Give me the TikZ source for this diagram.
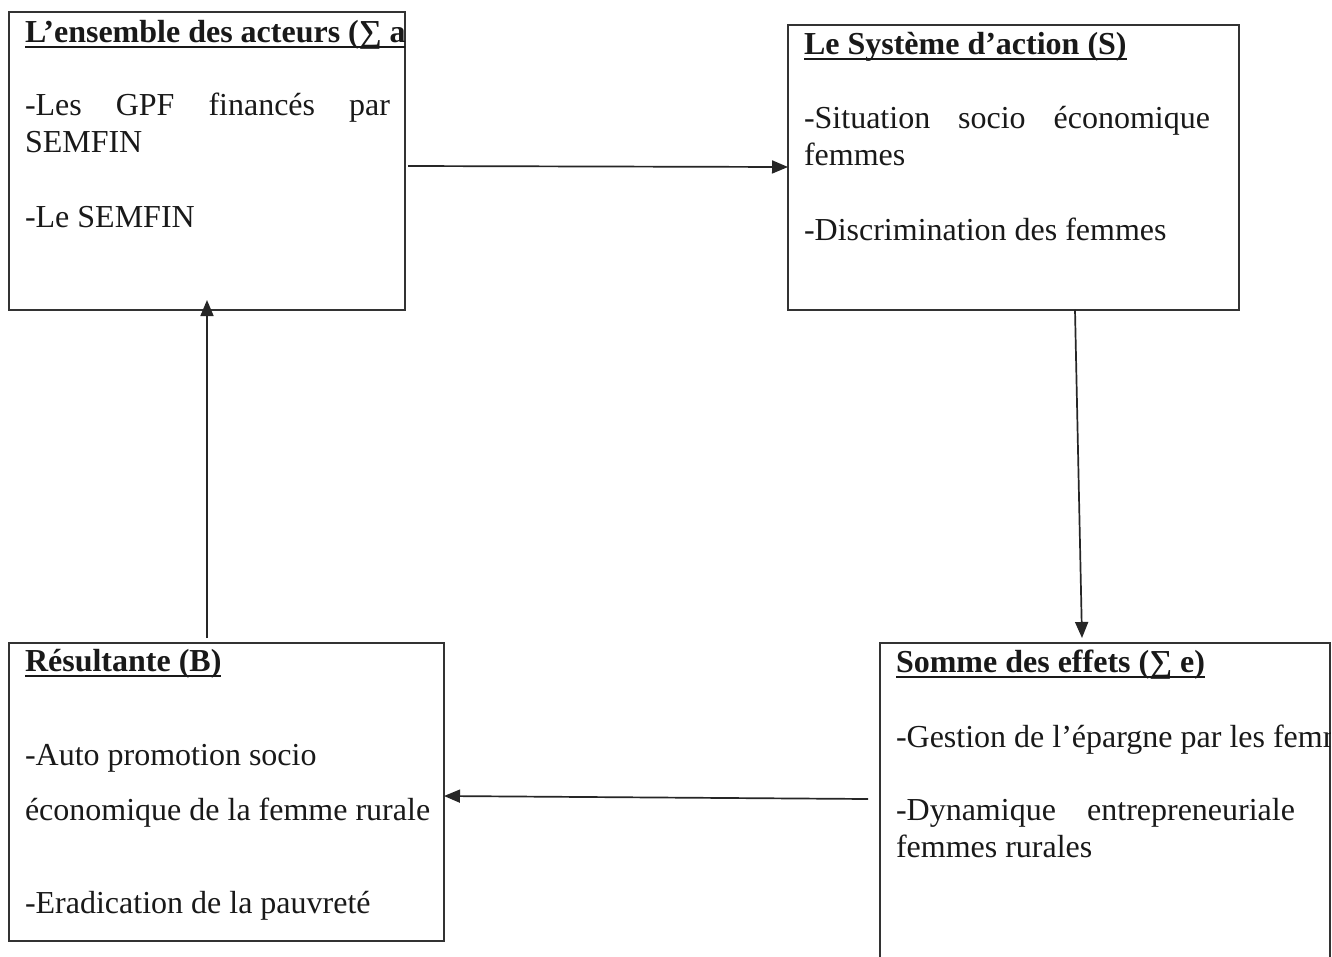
\documentclass[tikz,border=0pt]{standalone}
\usepackage{fontspec}
\setmainfont{Liberation Serif}
\usetikzlibrary{arrows.meta}
\tikzset{
  box/.style={draw=black!80, line width=1.5pt, minimum width=#1, anchor=north west, inner sep=0pt, outer sep=0pt},
  txt/.style={anchor=base west, inner sep=0pt, outer sep=0pt, font=\fontsize{32}{37}\selectfont, text=black!90},
  head/.style={txt, font=\fontsize{32}{37}\selectfont\bfseries},
  uline/.style={line width=2pt, black!90},
  conn/.style={line width=1.7pt, black!85, -{Triangle[length=16pt,width=13pt]}}
}
\begin{document}
\begin{tikzpicture}[x=1pt,y=-1pt]
\clip (0,0) rectangle (1332,956);
\fill[white] (0,0) rectangle (1332,956);
% boxes
\node[box=396pt, minimum height=298pt] (A) at (9,12) {};
\node[box=451pt, minimum height=285pt] (S) at (788,25) {};
\node[box=435pt, minimum height=298pt] (B) at (9,643) {};
\node[box=450pt, minimum height=360pt] (E) at (880,643) {};
% box A text
\begin{scope}
\clip (A.north west) rectangle (A.south east);
\node[head] (Ah) at (25,42) {L’ensemble des acteurs (∑ a)};
\draw[uline] ([yshift=-5pt]Ah.base west) -- ([yshift=-5pt]Ah.base east);
\end{scope}
\node[txt] (A1) at (25,115) {\hbox to 365pt{-Les\hfill GPF\hfill financés\hfill par}};
\node[txt] (A2) at (25,152) {SEMFIN};
\node[txt] (A3) at (25,227) {-Le SEMFIN};
% box S text
\node[head] (Sh) at (804,54) {Le Système d’action (S)};
\draw[uline] ([yshift=-5pt]Sh.base west) -- ([yshift=-5pt]Sh.base east);
\node[txt] (S1) at (804,128) {\hbox to 406pt{-Situation\hfill socio\hfill économique}};
\node[txt] (S2) at (804,165) {femmes};
\node[txt] (S3) at (804,240) {-Discrimination des femmes};
% box B text
\node[head] (Bh) at (25,671) {Résultante (B)};
\draw[uline] ([yshift=-5pt]Bh.base west) -- ([yshift=-5pt]Bh.base east);
\node[txt] (B1) at (25,765) {-Auto promotion socio};
\node[txt] (B2) at (25,820) {économique de la femme rurale};
\node[txt] (B3) at (25,913) {-Eradication de la pauvreté};
% box E text
\begin{scope}
\clip (E.north west) rectangle (E.south east);
\node[head] (Eh) at (896,672) {Somme des effets (∑ e)};
\draw[uline] ([yshift=-5pt]Eh.base west) -- ([yshift=-5pt]Eh.base east);
\node[txt] (E1) at (896,747) {-Gestion de l’épargne par les femmes};
\end{scope}
\node[txt] (E2) at (896,820) {\hbox to 399pt{-Dynamique\hfill entrepreneuriale}};
\node[txt] (E3) at (896,857) {femmes rurales};
% connectors
\draw[conn] ([xshift=3pt,yshift=-5pt]A.east) -- ([yshift=0.5pt]S.west);
\draw[conn] ([xshift=61.5pt]S.south) -- ([xshift=-23pt,yshift=5pt]E.north);
\draw[conn] ([xshift=-12pt,yshift=24pt]E.west) -- ([yshift=-4pt]B.east);
\draw[conn] ([xshift=-19.5pt,yshift=5pt]B.north) -- ([yshift=10pt]A.south);
\end{tikzpicture}
\end{document}
